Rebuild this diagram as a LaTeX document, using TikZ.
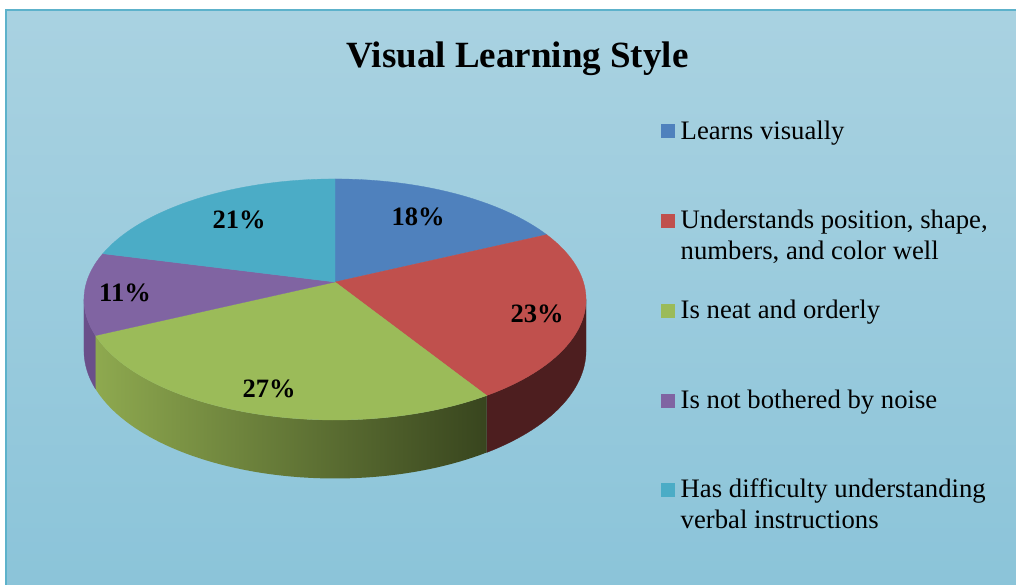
\documentclass[tikz,border=0pt]{standalone}
\usepackage{fontspec}
\setmainfont{Liberation Serif}
\definecolor{bgtop}{HTML}{A9D2E1}
\definecolor{bgbot}{HTML}{8BC4D9}
\definecolor{frame}{HTML}{5DB2CB}
\definecolor{cblue}{HTML}{4F81BD}
\definecolor{cred}{HTML}{C0504D}
\definecolor{cgreen}{HTML}{9BBB59}
\definecolor{cpurple}{HTML}{8064A2}
\definecolor{ccyan}{HTML}{4BACC6}
\definecolor{credside}{HTML}{4D1E1F}
\definecolor{cgreenL}{HTML}{8EA94F}
\definecolor{cgreenR}{HTML}{38451E}
\definecolor{cpurpleside}{HTML}{6A4F8A}
\begin{document}
\begin{tikzpicture}[x=1pt,y=-1pt,
  declare function={
    px(\t)=335+248.4*cos(\t)/(1+0.145*sin(\t));
    py(\t)=282-118*sin(\t)/(1+0.145*sin(\t));
    pz(\t)=50/(1+0.145*sin(\t));
  },
  legtext/.style={font=\fontsize{26.7}{31}\selectfont, anchor=base west, inner sep=0pt, align=left},
  legbox/.style={minimum size=14pt, inner sep=0pt, anchor=south west},
  pct/.style={font=\fontsize{26.5}{30}\selectfont\bfseries, inner sep=0pt, text depth=0pt}
]
\useasboundingbox (0,0) rectangle (1016,584);
\fill[white] (0,0) rectangle (1016,584);
\shade[top color=bgtop, bottom color=bgbot] (6,10) rectangle (1022,590);
\draw[frame, line width=2pt] (6,592) -- (6,10) -- (1022,10);

\node[font=\fontsize{37}{44}\selectfont\bfseries, anchor=base] (title) at (517.5,67) {Visual Learning Style};

% sides
\fill[credside, draw=credside, line width=0.3pt]
  plot[domain=-8.3:-57.6, samples=40] ({px(\x)},{py(\x)})
  -- plot[domain=-57.6:-8.3, samples=40] ({px(\x)},{py(\x)+pz(\x)}) -- cycle;
\shade[left color=cgreenL, right color=cgreenR]
  plot[domain=-57.6:-154.8, samples=60] ({px(\x)},{py(\x)})
  -- plot[domain=-154.8:-57.6, samples=60] ({px(\x)},{py(\x)+pz(\x)}) -- cycle;
\fill[cpurpleside, draw=cpurpleside, line width=0.3pt]
  plot[domain=-154.8:-171.7, samples=20] ({px(\x)},{py(\x)})
  -- plot[domain=-171.7:-154.8, samples=20] ({px(\x)},{py(\x)+pz(\x)}) -- cycle;

% top faces
\coordinate (c) at (335,282);
\fill[cblue, draw=cblue, line width=0.3pt] (c) -- plot[domain=90:25.2, samples=40] ({px(\x)},{py(\x)}) -- cycle;
\fill[cred, draw=cred, line width=0.3pt] (c) -- plot[domain=25.2:-57.6, samples=50] ({px(\x)},{py(\x)}) -- cycle;
\fill[cgreen, draw=cgreen, line width=0.3pt] (c) -- plot[domain=-57.6:-154.8, samples=60] ({px(\x)},{py(\x)}) -- cycle;
\fill[cpurple, draw=cpurple, line width=0.3pt] (c) -- plot[domain=-154.8:-194.4, samples=30] ({px(\x)},{py(\x)}) -- cycle;
\fill[ccyan, draw=ccyan, line width=0.3pt] (c) -- plot[domain=165.6:90, samples=50] ({px(\x)},{py(\x)}) -- cycle;

% percentages
\node[pct] (p18) at (418,217) {18\%};
\node[pct] (p23) at (537,314) {23\%};
\node[pct] (p27) at (269,389) {27\%};
\node[pct] (p11) at (125,293) {11\%};
\node[pct] (p21) at (239,220) {21\%};

% legend
\node[legbox, fill=cblue] (k1) at (661,138.5) {};
\node[legtext] (l1) at (680.5,139.3) {Learns visually};
\node[legbox, fill=cred] (k2) at (661,228) {};
\node[legtext] (l2) at (680.5,259.3) {Understands position, shape,\\numbers, and color well};
\node[legbox, fill=cgreen] (k3) at (661,318) {};
\node[legtext] (l3) at (680.5,318.3) {Is neat and orderly};
\node[legbox, fill=cpurple] (k4) at (661,408) {};
\node[legtext] (l4) at (680.5,408.3) {Is not bothered by noise};
\node[legbox, fill=ccyan] (k5) at (661,497.5) {};
\node[legtext] (l5) at (680.5,528.3) {Has difficulty understanding\\verbal instructions};
\end{tikzpicture}
\end{document}
